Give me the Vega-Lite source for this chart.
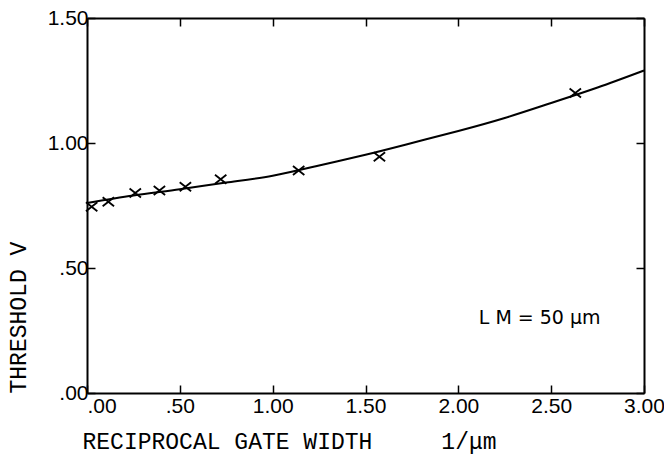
{
  "$schema": "https://vega.github.io/schema/vega-lite/v6.json",
  "width": 557,
  "height": 375,
  "autosize": {"type": "none"},
  "padding": {"left": 87, "top": 18, "right": 20, "bottom": 68},
  "background": "white",
  "datasets": {
    "points": [
      {"x": 0.025, "y": 0.745},
      {"x": 0.115, "y": 0.765},
      {"x": 0.26, "y": 0.8},
      {"x": 0.39, "y": 0.81},
      {"x": 0.53, "y": 0.825},
      {"x": 0.72, "y": 0.855},
      {"x": 1.14, "y": 0.89},
      {"x": 1.575, "y": 0.945},
      {"x": 2.63, "y": 1.2}
    ],
    "curve": [
      {"x": 0.0, "y": 0.76},
      {"x": 0.25, "y": 0.79},
      {"x": 0.5, "y": 0.815},
      {"x": 0.75, "y": 0.842},
      {"x": 1.0, "y": 0.869},
      {"x": 1.25, "y": 0.91},
      {"x": 1.5, "y": 0.953},
      {"x": 1.75, "y": 1.0},
      {"x": 2.0, "y": 1.048},
      {"x": 2.25, "y": 1.1},
      {"x": 2.5, "y": 1.16},
      {"x": 2.75, "y": 1.222},
      {"x": 3.0, "y": 1.29}
    ],
    "note": [
      {"x": 2.11, "y": 0.3, "label": "L M = 50 μm"}
    ]
  },
  "layer": [
    {
      "data": {"name": "points"},
      "mark": {"type": "point", "shape": "M-1,-0.8L1,0.8M-1,0.8L1,-0.8", "filled": false, "stroke": "black", "strokeWidth": 1.8, "size": 130, "opacity": 1},
      "encoding": {
        "x": {
          "field": "x", "type": "quantitative",
          "scale": {"domain": [0, 3], "nice": false, "zero": false},
          "axis": {
            "orient": "bottom",
            "values": [0, 0.5, 1, 1.5, 2, 2.5, 3],
            "labelExpr": "datum.value < 1 ? substring(format(datum.value, '.2f'), 1) : format(datum.value, '.2f')",
            "labelAlign": {"condition": {"test": "datum.value == 0", "value": "left"}, "value": "center"},
            "labelPadding": 10,
            "title": "RECIPROCAL GATE WIDTH\u00a0\u00a0\u00a0\u00a0\u00a01/μm",
            "titleAnchor": "start",
            "titleAlign": "left",
            "titleBaseline": "alphabetic",
            "titleX": -5,
            "titleY": 55
          }
        },
        "y": {
          "field": "y", "type": "quantitative",
          "scale": {"domain": [0, 1.5], "nice": false, "zero": false},
          "axis": {
            "orient": "left",
            "values": [0, 0.5, 1, 1.5],
            "labelExpr": "datum.value < 1 ? substring(format(datum.value, '.2f'), 1) : format(datum.value, '.2f')",
            "labelPadding": 7,
            "title": "THRESHOLD V",
            "titleAngle": -90,
            "titleAlign": "left",
            "titleBaseline": "middle",
            "titleX": -69,
            "titleY": 375
          }
        }
      }
    },
    {
      "data": {"name": "curve"},
      "mark": {"type": "line", "color": "black", "strokeWidth": 2, "interpolate": "natural"},
      "encoding": {
        "x": {
          "field": "x", "type": "quantitative",
          "axis": {"orient": "top", "values": [0, 0.5, 1, 1.5, 2, 2.5, 3], "labels": false, "title": null}
        },
        "y": {
          "field": "y", "type": "quantitative",
          "axis": {"orient": "right", "values": [0, 0.5, 1, 1.5], "labels": false, "title": null}
        }
      }
    },
    {
      "data": {"name": "note"},
      "mark": {"type": "text", "align": "left", "baseline": "middle", "font": "DejaVu Sans", "fontSize": 19, "color": "black"},
      "encoding": {
        "x": {"field": "x", "type": "quantitative", "axis": null},
        "y": {"field": "y", "type": "quantitative", "axis": null},
        "text": {"field": "label"}
      }
    }
  ],
  "resolve": {"axis": {"x": "independent", "y": "independent"}},
  "config": {
    "view": {"stroke": null},
    "axis": {
      "grid": false,
      "domainColor": "black",
      "domainWidth": 2,
      "tickColor": "black",
      "tickWidth": 1.5,
      "tickSize": -8,
      "labelColor": "black",
      "labelFont": "Liberation Sans",
      "labelFontSize": 21,
      "titleFont": "Liberation Mono",
      "titleFontSize": 23,
      "titleFontWeight": "normal",
      "titleColor": "black"
    }
  }
}
